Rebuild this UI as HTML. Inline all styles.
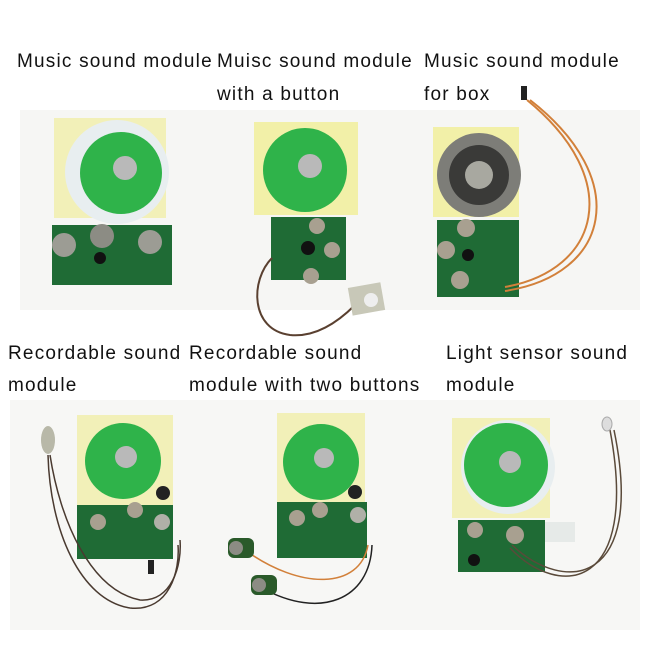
<!DOCTYPE html>
<html><head><meta charset="utf-8"><style>
html,body{margin:0;padding:0;background:#fff}
svg{display:block}
text{font-family:"Liberation Sans",sans-serif;font-size:19px;fill:#111;letter-spacing:1.2px}
</style></head><body>
<svg width="650" height="650" viewBox="0 0 650 650" xmlns="http://www.w3.org/2000/svg">
<rect width="650" height="650" fill="#fff"/>
<rect x="20" y="110" width="620" height="200" fill="#f6f6f4"/>
<rect x="10" y="400" width="630" height="230" fill="#f7f7f5"/>
<text x="17" y="67">Music sound module</text>
<text x="217" y="67">Muisc sound module</text>
<text x="217" y="100">with a button</text>
<text x="424" y="67">Music sound module</text>
<text x="424" y="100">for box</text>
<text x="8" y="359">Recordable sound</text>
<text x="8" y="391">module</text>
<text x="189" y="359">Recordable sound</text>
<text x="189" y="391">module with two buttons</text>
<text x="446" y="359">Light sensor sound</text>
<text x="446" y="391">module</text>

<!-- M1 -->
<rect x="54" y="118" width="112" height="100" fill="#f2f0b8"/>
<circle cx="117" cy="172" r="52" fill="#e8eef0"/>
<circle cx="121" cy="173" r="41" fill="#2fb34a"/>
<circle cx="125" cy="168" r="12" fill="#b9b9b9"/>
<rect x="52" y="225" width="120" height="60" fill="#1f6b35"/>
<circle cx="64" cy="245" r="12" fill="#9c9c94"/>
<circle cx="102" cy="236" r="12" fill="#8c8c84"/>
<circle cx="150" cy="242" r="12" fill="#9c9c94"/>
<circle cx="100" cy="258" r="6" fill="#111"/>

<!-- M2 -->
<rect x="254" y="122" width="104" height="93" fill="#f2f0a8"/>
<circle cx="305" cy="170" r="42" fill="#2fb34a"/>
<circle cx="310" cy="166" r="12" fill="#b9b9b9"/>
<rect x="271" y="217" width="75" height="63" fill="#1f6b35"/>
<circle cx="317" cy="226" r="8" fill="#a8a090"/>
<circle cx="332" cy="250" r="8" fill="#a8a090"/>
<circle cx="311" cy="276" r="8" fill="#a8a090"/>
<circle cx="308" cy="248" r="7" fill="#111"/>
<path d="M272 258 C250 280 250 330 290 335 C320 338 345 315 355 305" stroke="#5a4030" stroke-width="2" fill="none"/>
<rect x="350" y="285" width="33" height="28" fill="#c8c8b8" transform="rotate(-10 366 299)"/>
<circle cx="371" cy="300" r="7" fill="#eee"/>

<!-- M3 -->
<rect x="433" y="127" width="86" height="90" fill="#f2f0a8"/>
<circle cx="479" cy="175" r="42" fill="#7d7d78"/>
<circle cx="479" cy="175" r="30" fill="#3a3a38"/>
<circle cx="479" cy="175" r="14" fill="#a8a8a0"/>
<rect x="437" y="220" width="82" height="77" fill="#1f6b35"/>
<circle cx="466" cy="228" r="9" fill="#a8a090"/>
<circle cx="446" cy="250" r="9" fill="#a8a090"/>
<circle cx="460" cy="280" r="9" fill="#a8a090"/>
<circle cx="468" cy="255" r="6" fill="#111"/>
<path d="M505 287 C600 270 625 180 527 100" stroke="#d2803a" stroke-width="2" fill="none"/>
<path d="M505 291 C610 275 633 180 530 100" stroke="#d2803a" stroke-width="2" fill="none"/>
<rect x="521" y="86" width="6" height="14" fill="#222"/>

<!-- M4 -->
<rect x="77" y="415" width="96" height="90" fill="#f2f0b8"/>
<circle cx="123" cy="461" r="38" fill="#2fb34a"/>
<circle cx="126" cy="457" r="11" fill="#b9b9b9"/>
<circle cx="163" cy="493" r="7" fill="#222"/>
<rect x="77" y="505" width="96" height="54" fill="#1f6b35"/>
<circle cx="98" cy="522" r="8" fill="#a8a090"/>
<circle cx="135" cy="510" r="8" fill="#a8a090"/>
<circle cx="162" cy="522" r="8" fill="#b0b0a8"/>
<rect x="148" y="560" width="6" height="14" fill="#222"/>
<ellipse cx="48" cy="440" rx="7" ry="14" fill="#b8b8a8"/>
<path d="M48 455 C50 530 80 600 130 608 C170 612 180 570 178 545" stroke="#4a3a30" stroke-width="1.5" fill="none"/>
<path d="M50 455 C60 520 90 590 140 600 C172 602 182 565 180 540" stroke="#4a3a30" stroke-width="1.5" fill="none"/>

<!-- M5 -->
<rect x="277" y="413" width="88" height="92" fill="#f2f0b8"/>
<circle cx="321" cy="462" r="38" fill="#2fb34a"/>
<circle cx="324" cy="458" r="10" fill="#b9b9b9"/>
<circle cx="355" cy="492" r="7" fill="#222"/>
<rect x="277" y="502" width="90" height="56" fill="#1f6b35"/>
<circle cx="297" cy="518" r="8" fill="#a8a090"/>
<circle cx="320" cy="510" r="8" fill="#a8a090"/>
<circle cx="358" cy="515" r="8" fill="#b0b0a8"/>
<path d="M245 550 C300 590 360 590 368 545" stroke="#d2803a" stroke-width="1.5" fill="none"/>
<path d="M262 588 C320 620 370 600 372 545" stroke="#222" stroke-width="1.5" fill="none"/>
<rect x="228" y="538" width="26" height="20" rx="6" fill="#2a5a2a"/>
<circle cx="236" cy="548" r="7" fill="#8c8c84"/>
<rect x="251" y="575" width="26" height="20" rx="6" fill="#2a5a2a"/>
<circle cx="259" cy="585" r="7" fill="#8c8c84"/>

<!-- M6 -->
<rect x="452" y="418" width="98" height="100" fill="#f2f0b8"/>
<circle cx="508" cy="467" r="47" fill="#e8eef0"/>
<circle cx="506" cy="465" r="42" fill="#2fb34a"/>
<circle cx="510" cy="462" r="11" fill="#b9b9b9"/>
<rect x="458" y="520" width="87" height="52" fill="#1f6b35"/>
<rect x="545" y="522" width="30" height="20" fill="#e6eae8"/>
<circle cx="475" cy="530" r="8" fill="#a8a090"/>
<circle cx="515" cy="535" r="9" fill="#a8a090"/>
<circle cx="474" cy="560" r="6" fill="#111"/>
<path d="M510 548 C560 600 640 590 610 430" stroke="#5a4a3a" stroke-width="1.5" fill="none"/>
<path d="M512 545 C565 595 646 585 614 430" stroke="#5a4a3a" stroke-width="1.5" fill="none"/>
<ellipse cx="607" cy="424" rx="5" ry="7" fill="#ddd" stroke="#aaa"/>
</svg>
</body></html>
